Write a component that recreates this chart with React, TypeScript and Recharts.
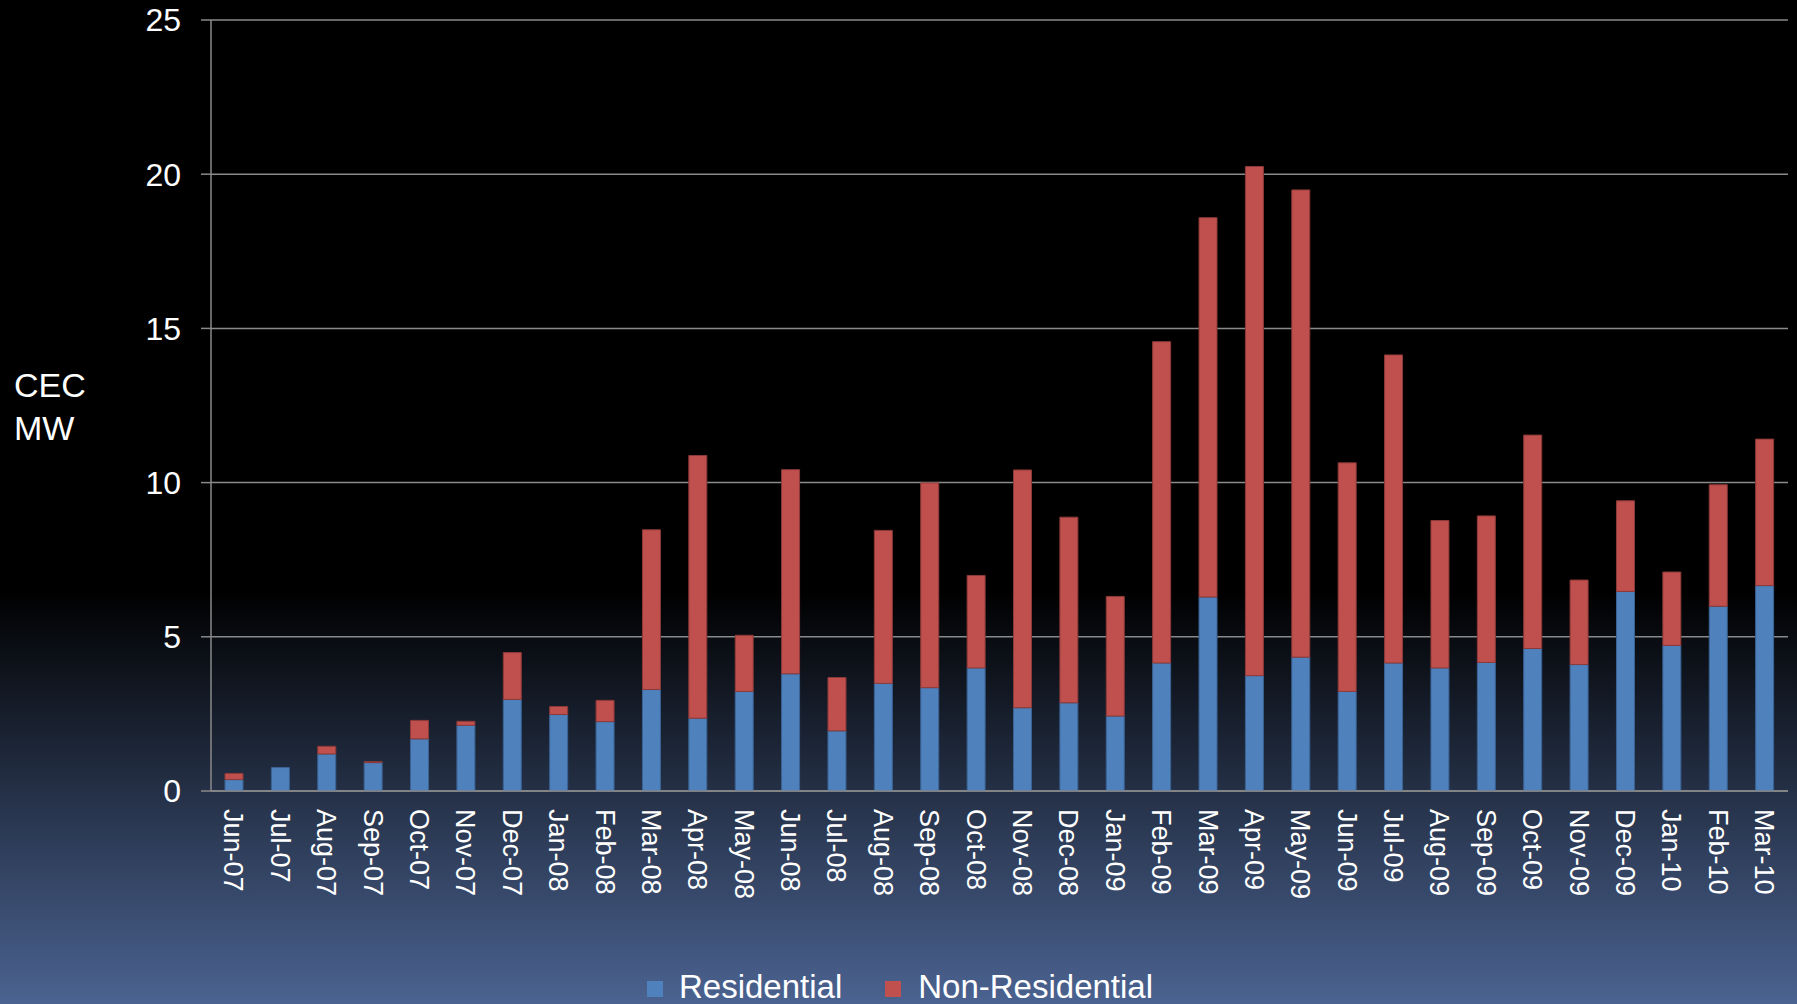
import React from "react";
import { BarChart, Bar, XAxis, YAxis, CartesianGrid, Legend } from "recharts";

const months = [
  "Jun-07", "Jul-07", "Aug-07", "Sep-07", "Oct-07", "Nov-07", "Dec-07",
  "Jan-08", "Feb-08", "Mar-08", "Apr-08", "May-08", "Jun-08", "Jul-08",
  "Aug-08", "Sep-08", "Oct-08", "Nov-08", "Dec-08", "Jan-09", "Feb-09",
  "Mar-09", "Apr-09", "May-09", "Jun-09", "Jul-09", "Aug-09", "Sep-09",
  "Oct-09", "Nov-09", "Dec-09", "Jan-10", "Feb-10", "Mar-10",
];

const residential = [
  0.37, 0.76, 1.2, 0.92, 1.69, 2.13, 2.97, 2.48, 2.25, 3.29, 2.36, 3.23,
  3.8, 1.95, 3.49, 3.35, 3.99, 2.7, 2.86, 2.43, 4.15, 6.29, 3.74, 4.34,
  3.23, 4.15, 3.99, 4.17, 4.62, 4.1, 6.47, 4.72, 5.99, 6.66,
];

const nonResidential = [
  0.2, 0, 0.25, 0.03, 0.6, 0.13, 1.52, 0.26, 0.69, 5.18, 8.52, 1.82,
  6.62, 1.73, 4.96, 6.64, 3.0, 7.71, 6.02, 3.88, 10.42, 12.3, 16.51, 15.15,
  7.41, 9.99, 4.78, 4.75, 6.92, 2.74, 2.94, 2.38, 3.94, 4.75,
];

const yTicks = [0, 5, 10, 15, 20, 25];

const data = months.map((m, i) => ({
  month: m,
  res: residential[i],
  nonRes: nonResidential[i],
}));

const FONT = "'Liberation Sans', Arial, Helvetica, sans-serif";
const GRID = "#8a8a8a";

const MonthTick = (props: any) => {
  const { x, y, payload } = props;
  return (
    <text
      x={x}
      y={y}
      transform={`rotate(90, ${x}, ${y})`}
      textAnchor="start"
      dy="0.36em"
      fill="#ffffff"
      fontSize={27}
      fontFamily={FONT}
    >
      {payload.value}
    </text>
  );
};

const AxisTitle = (props: any) => {
  const { viewBox } = props;
  const cy = viewBox.y + viewBox.height / 2;
  return (
    <text fill="#ffffff" fontSize={34} fontFamily={FONT}>
      <tspan x={14} y={cy - 9}>CEC</tspan>
      <tspan x={14} y={cy + 34}>MW</tspan>
    </text>
  );
};

const LegendBox = () => (
  <div
    style={{
      height: 34,
      display: "flex",
      justifyContent: "center",
      alignItems: "center",
      paddingLeft: 12,
      fontFamily: FONT,
      fontSize: 33,
      color: "#ffffff",
      lineHeight: "34px",
    }}
  >
    <span style={{ width: 16, height: 16, background: "#4F81BD", marginRight: 16, marginTop: 4 }} />
    <span>Residential</span>
    <span style={{ width: 16, height: 16, background: "#C0504D", marginLeft: 43, marginRight: 17, marginTop: 4 }} />
    <span>Non-Residential</span>
  </div>
);

export default function App() {
  return (
    <div
      style={{
        position: "absolute",
        left: 0,
        top: 0,
        width: 1797,
        height: 1004,
        overflow: "hidden",
        fontFamily: FONT,
        background: "linear-gradient(to bottom, #000000 0%, #000000 58.8%, #4b6391 100%)",
      }}
    >
      <BarChart
        width={1797}
        height={1004}
        data={data}
        margin={{ top: 20, right: 9, left: 0, bottom: 0 }}
      >
        <CartesianGrid vertical={false} stroke={GRID} strokeWidth={1.5} />
        <XAxis
          dataKey="month"
          interval={0}
          height={179}
          tickLine={false}
          tickSize={0}
          tickMargin={18}
          axisLine={{ stroke: GRID, strokeWidth: 1.5 }}
          tick={<MonthTick />}
        />
        <YAxis
          width={211}
          domain={[0, 25]}
          ticks={yTicks}
          interval={0}
          tickSize={10}
          tickMargin={20}
          axisLine={{ stroke: GRID, strokeWidth: 1.5 }}
          tickLine={{ stroke: GRID, strokeWidth: 1.5 }}
          tick={{ fill: "#ffffff", fontSize: 32, fontFamily: FONT }}
          label={<AxisTitle />}
        />
        <Legend verticalAlign="bottom" height={34} content={<LegendBox />} />
        <Bar
          dataKey="res"
          name="Residential"
          stackId="a"
          barSize={18}
          fill="#4F81BD"
          stroke="#3A6394"
          strokeWidth={1}
          isAnimationActive={false}
        />
        <Bar
          dataKey="nonRes"
          name="Non-Residential"
          stackId="a"
          barSize={18}
          fill="#C0504D"
          stroke="#8C3A38"
          strokeWidth={1}
          isAnimationActive={false}
        />
      </BarChart>
    </div>
  );
}
